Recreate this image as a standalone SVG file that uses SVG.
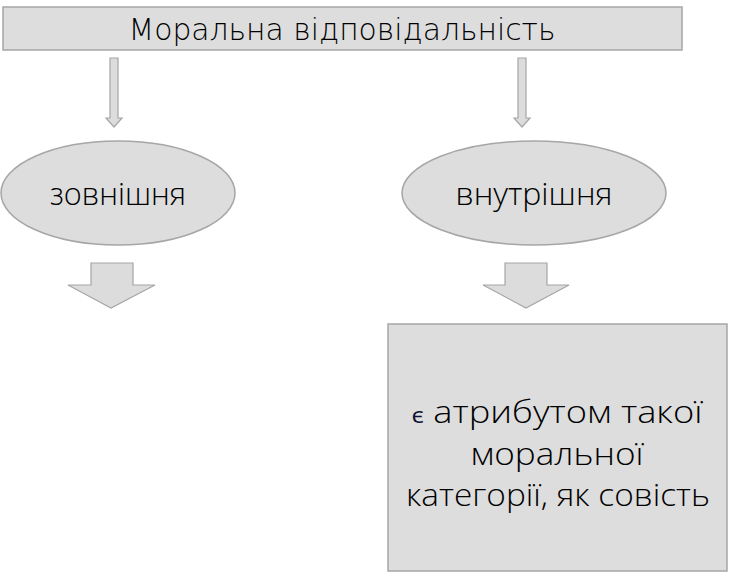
<svg xmlns="http://www.w3.org/2000/svg" width="731" height="574" viewBox="0 0 731 574">
<style>
.shape{fill:#dddddd;stroke:#a6a6a6;stroke-width:1.5}
.arr{fill:#dcdcdc;stroke:#a6a6a6;stroke-width:1.2}
.t{font-family:"Open Sans","Liberation Sans",sans-serif;font-weight:300;fill:#000;text-anchor:middle}
.title{font-family:"DejaVu Sans","Liberation Sans",sans-serif;font-size:31px;font-weight:200}
.lab{font-size:31px}
.body{font-size:32px}
</style>
<rect width="731" height="574" fill="#ffffff"/>
<g id="node-title">
<rect class="shape" x="3" y="7" width="679" height="43"/>
<text class="t title" x="342" y="40" textLength="427" lengthAdjust="spacingAndGlyphs">Моральна відповідальність</text>
</g>
<g id="connectors">
<polygon class="arr" points="110,58 118,58 118,118 122,118 114,127 106,118 110,118"/>
<polygon class="arr" points="518,58 526,58 526,118 530,118 522,127 514,118 518,118"/>
<polygon class="arr" points="91,263 133,263 133,285 155,285 111,308 68,285 91,285"/>
<polygon class="arr" points="505,263 547,263 547,285 569,285 526,308 483,285 505,285"/>
</g>
<g id="node-external">
<ellipse class="shape" cx="118" cy="193" rx="117" ry="52"/>
<text class="t lab" x="118" y="205" textLength="136" lengthAdjust="spacingAndGlyphs">зовнішня</text>
</g>
<g id="node-internal">
<ellipse class="shape" cx="534" cy="193" rx="132" ry="52"/>
<text class="t lab" x="534" y="205" textLength="157" lengthAdjust="spacingAndGlyphs">внутрішня</text>
</g>
<g id="node-conscience">
<rect class="shape" x="388" y="324" width="339" height="247"/>
<text class="t body" x="557" y="423" textLength="291" lengthAdjust="spacingAndGlyphs"><tspan font-size="22" font-weight="400" fill="#101030">є</tspan> атрибутом такої</text>
<text class="t body" x="557" y="465" textLength="173" lengthAdjust="spacingAndGlyphs">моральної</text>
<text class="t body" x="558" y="506" textLength="304" lengthAdjust="spacingAndGlyphs">категорії, як совість</text>
</g>
</svg>
